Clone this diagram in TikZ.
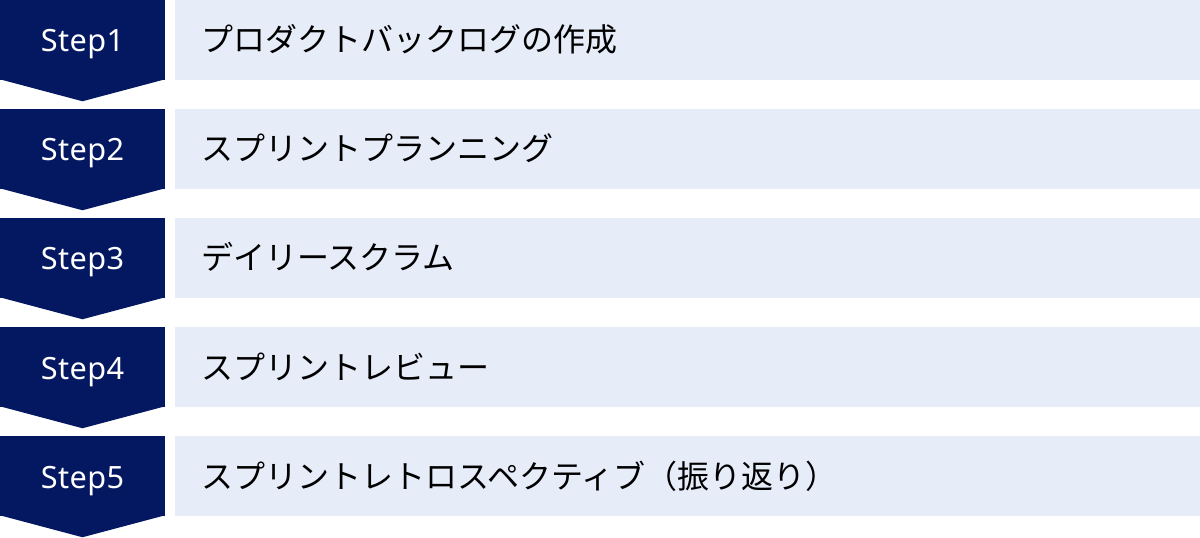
\documentclass[tikz,border=0pt]{standalone}
\usepackage{fontspec}
\setmainfont{Noto Sans}
\newfontfamily\jpfont{Noto Sans CJK JP}
\newfontfamily\stepfont[LetterSpace=1.5]{Noto Sans}
\usepackage{xcolor}
\usetikzlibrary{positioning,calc}
\definecolor{stepnavy}{HTML}{041862}
\definecolor{itemblue}{HTML}{E6ECF8}
\tikzset{
  stepbox/.style={fill=stepnavy,text=white,minimum width=123.75pt,minimum height=60pt,
    inner sep=0pt,text height=21pt,text depth=3pt,
    font=\stepfont\fontsize{23}{28}\selectfont},
  itembox/.style={fill=itemblue,text=black,minimum height=60pt,text width=729pt,
    inner xsep=20.25pt,inner ysep=0pt,align=left,text height=21pt,text depth=3pt,
    font=\jpfont\fontsize{24}{29}\selectfont}
}

\begin{document}
\begin{tikzpicture}[x=0.75pt,y=-0.75pt]
      \useasboundingbox (0,0) rectangle (1200,538);
      \foreach \i/\txt in {1/プロダクトバックログの作成,2/スプリントプランニング,3/デイリースクラム,
                           4/スプリントレビュー,5/スプリントレトロスペクティブ（振り返り）}{
        \node[stepbox] (step\i) at (82.5,{40+109*(\i-1)}) {Step\i};
        \fill[stepnavy] ($(step\i.south west)+(0,-1)$) -- ($(step\i.south east)+(0,-1)$)
              -- ($(step\i.south)+(0,21)$) -- cycle;
        \node[itembox,right=6.75pt of step\i] (item\i) {\txt};
      }
    \end{tikzpicture}
\end{document}
